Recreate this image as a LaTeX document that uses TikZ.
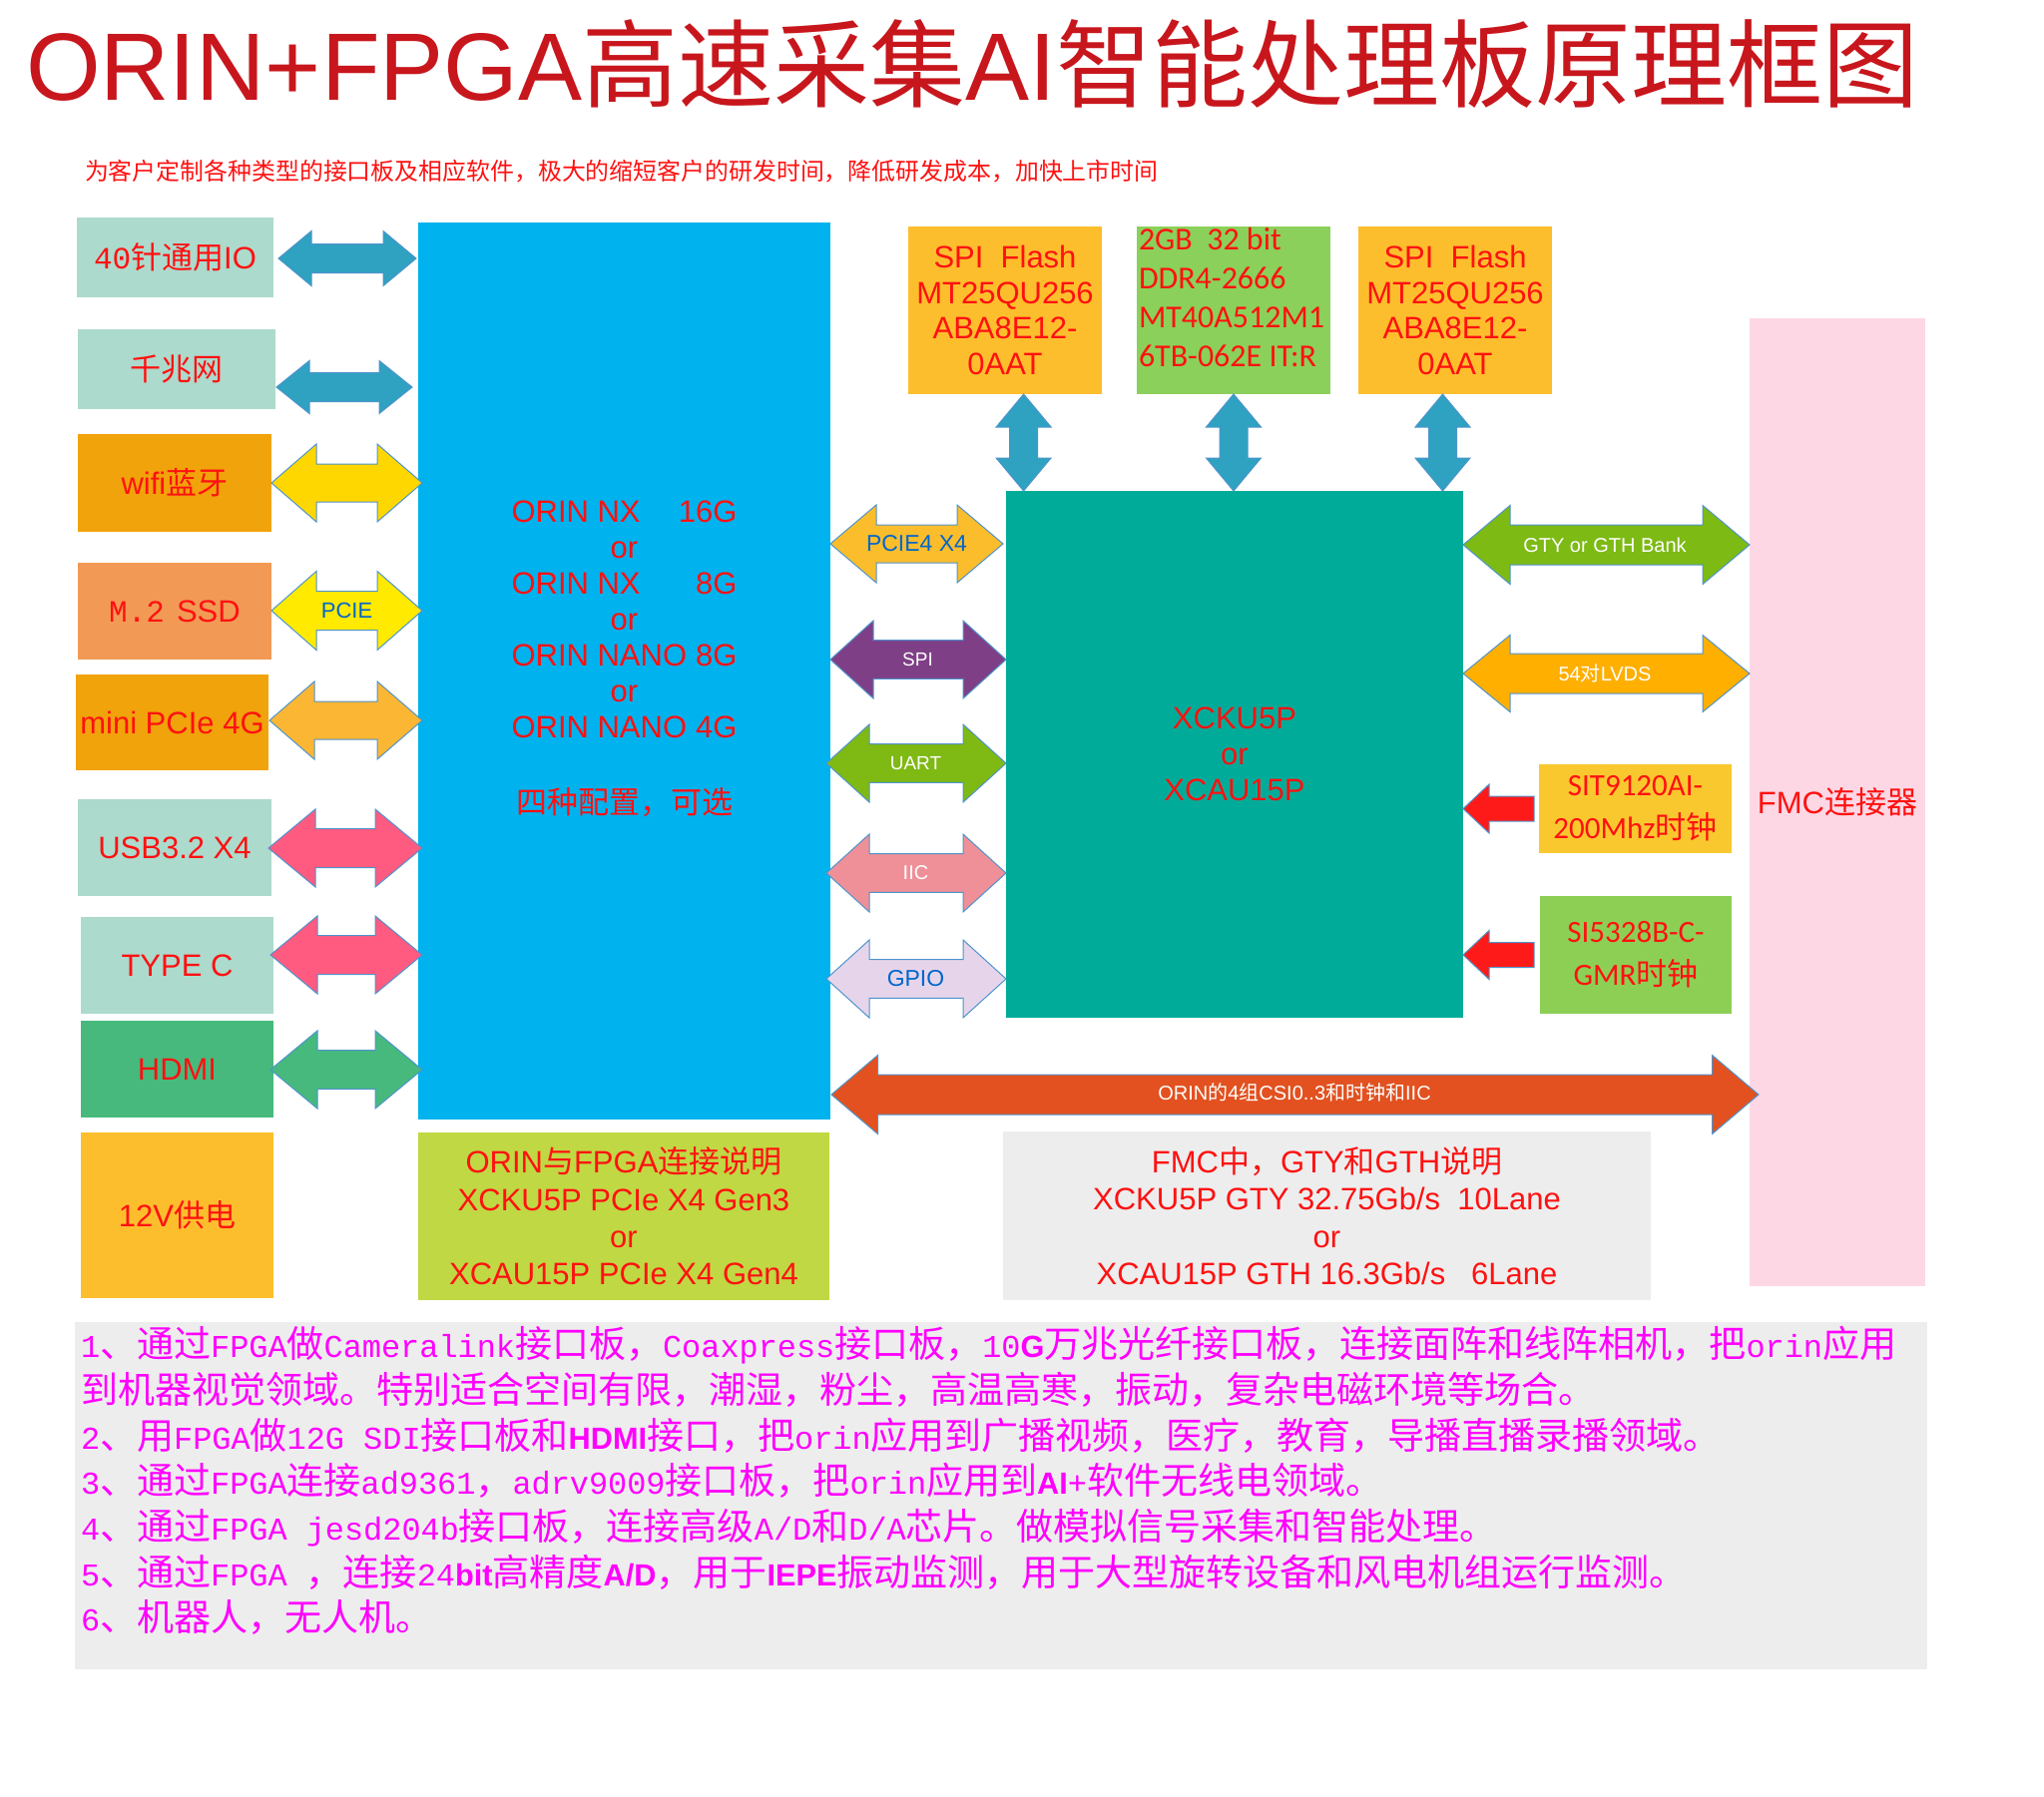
\documentclass[tikz,border=0pt]{standalone}
\usepackage{fontspec}
\setmainfont{Liberation Sans}
\newfontfamily\cjk{Noto Sans CJK SC}
\newfontfamily\mono{Liberation Mono}
\newfontfamily\monos[Scale=0.862]{Liberation Mono}
\newfontfamily\bsansf[Scale=0.83]{Liberation Sans}
\newfontfamily\carl{Carlito}
\usetikzlibrary{calc}
\newcommand\Z[1]{{\cjk #1}}
\newcommand\bsans{\bsansf\bfseries}
\newcommand\fs[2]{\fontsize{#1}{#2}\selectfont}
\definecolor{tred}{RGB}{255,17,17}
\definecolor{titlered}{RGB}{200,22,29}
\definecolor{boxteal}{RGB}{172,218,205}
\definecolor{orangeA}{RGB}{240,163,10}
\definecolor{ssdor}{RGB}{242,154,85}
\definecolor{hdmig}{RGB}{71,185,125}
\definecolor{amber}{RGB}{253,190,45}
\definecolor{orinblue}{RGB}{0,178,238}
\definecolor{conngreen}{RGB}{192,216,67}
\definecolor{fpgateal}{RGB}{0,172,153}
\definecolor{ddrg}{RGB}{139,208,90}
\definecolor{fmcpink}{RGB}{253,215,228}
\definecolor{sitY}{RGB}{249,200,47}
\definecolor{siG}{RGB}{141,207,85}
\definecolor{notegray}{RGB}{237,237,237}
\definecolor{notemag}{RGB}{255,0,255}
\definecolor{arrteal}{RGB}{46,162,192}
\definecolor{arryel}{RGB}{255,215,0}
\definecolor{arrpcie}{RGB}{255,234,0}
\definecolor{arrmp}{RGB}{251,182,52}
\definecolor{arrpink}{RGB}{255,90,128}
\definecolor{arrhdmi}{RGB}{71,185,125}
\definecolor{arrpf}{RGB}{251,189,43}
\definecolor{arrspi}{RGB}{127,63,134}
\definecolor{arruart}{RGB}{127,185,19}
\definecolor{arriic}{RGB}{239,144,152}
\definecolor{arrgpio}{RGB}{230,213,234}
\definecolor{arrgty}{RGB}{125,186,20}
\definecolor{arrlvds}{RGB}{255,175,0}
\definecolor{arrred}{RGB}{255,26,26}
\definecolor{arrcsi}{RGB}{226,81,31}
\definecolor{lblblue}{RGB}{0,102,204}
\definecolor{arrline}{RGB}{79,148,205}
% horizontal double block arrow: fill, P1, P2, yc, half height, half shaft, head length
\newcommand\harr[7]{%
\path[arrbase,fill=#1] let \p1=#2, \p2=#3, \p3=(0,#4) in
 (\x1,\y3) -- ++(#7pt,#5pt) -- ++(0pt,{(#6-#5)*1pt}) -- ({\x2-#7pt},{\y3+#6pt})
 -- ++(0pt,{(#5-#6)*1pt}) -- (\x2,\y3) -- ++(-#7pt,-#5pt) -- ++(0pt,{(#5-#6)*1pt})
 -- ({\x1+#7pt},{\y3-#6pt}) -- ++(0pt,{(#6-#5)*1pt}) -- cycle;}
% vertical double block arrow: fill, Ptop, Pbottom, xc, half width, half shaft, head length
\newcommand\varr[7]{%
\path[arrbase,fill=#1] let \p1=#2, \p2=#3, \p3=(#4,0) in
 (\x3,\y1) -- ++(#5pt,-#7pt) -- ++({(#6-#5)*1pt},0pt) -- ({\x3+#6pt},{\y2+#7pt})
 -- ++({(#5-#6)*1pt},0pt) -- (\x3,\y2) -- ++(-#5pt,#7pt) -- ++({(#5-#6)*1pt},0pt)
 -- ({\x3-#6pt},{\y1-#7pt}) -- ++({(#6-#5)*1pt},0pt) -- cycle;}
% single left block arrow: fill, Ptip, Ptail, yc, half height, half shaft, head length
\newcommand\larr[7]{%
\path[arrbase,fill=#1] let \p1=#2, \p2=#3, \p3=(0,#4) in
 (\x1,\y3) -- ++(#7pt,#5pt) -- ++(0pt,{(#6-#5)*1pt}) -- (\x2,{\y3+#6pt})
 -- (\x2,{\y3-#6pt}) -- ({\x1+#7pt},{\y3-#6pt}) -- ++(0pt,{(#6-#5)*1pt}) -- cycle;}
\begin{document}
\begin{tikzpicture}[x=1pt,y=-1pt,
  boxs/.style={rectangle, inner sep=0pt, outer sep=0pt, align=center, text=tred, font=\fs{31}{36}},
  txt/.style={inner sep=0pt, outer sep=0pt, align=center, text=tred},
  lbl/.style={inner sep=0pt, outer sep=0pt, text=white, font=\fs{20}{24}},
  arrbase/.style={draw=arrline, line width=1pt, line join=miter}]
\fill[white] (0,0) rectangle (2048,1800);
\useasboundingbox (0,0) rectangle (2048,1800);

% title and subtitle
\node[txt, anchor=base west, text=titlered, font=\fs{96}{110}] (title) at (26,100)
  {ORIN+FPGA\Z{高速采集}AI\Z{智能处理板原理框图}};
\node[txt, anchor=base west, font=\fs{23.9}{30}\cjk] (sub) at (85,180)
  {为客户定制各种类型的接口板及相应软件，极大的缩短客户的研发时间，降低研发成本，加快上市时间};

% left column
\node[boxs, fill=boxteal, minimum width=197pt, minimum height=80pt] (io) at (175.5,258) {{\mono 40}\Z{针通用}IO};
\node[boxs, fill=boxteal, minimum width=198pt, minimum height=80pt] (gbe) at (177,370) {\Z{千兆网}};
\node[boxs, fill=orangeA, minimum width=194pt, minimum height=98pt] (wifi) at (175,484) {wifi\Z{蓝牙}};
\node[boxs, fill=ssdor, minimum width=194pt, minimum height=97pt] (ssd) at (175,612.5) {{\mono M.2}\hspace{12pt}SSD};
\node[boxs, fill=orangeA, minimum width=193pt, minimum height=96pt] (mpcie) at (172.5,724) {mini PCIe 4G};
\node[boxs, fill=boxteal, minimum width=194pt, minimum height=97pt] (usb) at (175,849.5) {USB3.2 X4};
\node[boxs, fill=boxteal, minimum width=193pt, minimum height=97pt] (typec) at (177.5,967.5) {TYPE C};
\node[boxs, fill=hdmig, minimum width=193pt, minimum height=97pt] (hdmi) at (177.5,1071.5) {HDMI};
\node[boxs, fill=amber, minimum width=193pt, minimum height=166pt] (pwr) at (177.5,1218) {12V\Z{供电}};

% ORIN module
\node[boxs, fill=orinblue, minimum width=413pt, minimum height=899pt] (orin) at (625.5,672.5) {};
\node[txt, font=\fs{31}{36}] (orintxt) at (625.5,660)
  {\hbox to 226pt{ORIN NX\hfill 16G}\\or\\\hbox to 226pt{ORIN NX\hfill 8G}\\or\\
   \hbox to 226pt{ORIN NANO\hfill 8G}\\or\\\hbox to 226pt{ORIN NANO\hfill 4G}\\[40pt]\Z{四种配置，可选}};
\node[boxs, fill=conngreen, minimum width=412pt, minimum height=168pt, font=\fs{31}{37.3}] (conn) at (625,1219)
  {ORIN\Z{与}FPGA\Z{连接说明}\\XCKU5P PCIe X4 Gen3\\or\\XCAU15P PCIe X4 Gen4};

% memories
\node[boxs, fill=amber, minimum width=194pt, minimum height=168pt, font=\fs{31}{35.5}] (flash1) at (1007,311)
  {SPI\ \ Flash\\MT25QU256\\ABA8E12-\\0AAT};
\node[boxs, fill=ddrg, minimum width=194pt, minimum height=168pt] (ddr) at (1236,311) {};
\node[txt, anchor=west, align=left, font=\carl\fs{32}{39}] (ddrtxt) at (1141,298)
  {2GB\ \ 32 bit\\DDR4-2666\\MT40A512M1\\6TB-062E IT:R};
\node[boxs, fill=amber, minimum width=194pt, minimum height=168pt, font=\fs{31}{35.5}] (flash2) at (1458,311)
  {SPI\ \ Flash\\MT25QU256\\ABA8E12-\\0AAT};

% FPGA
\node[boxs, fill=fpgateal, minimum width=458pt, minimum height=528pt] (fpga) at (1237,756)
  {XCKU5P\\or\\XCAU15P};

% clocks and FMC
\node[boxs, fill=sitY, minimum width=193pt, minimum height=89pt, font=\carl\fs{31}{43}] (sit) at (1638.5,810.5)
  {SIT9120AI-\\200Mhz\Z{时钟}};
\node[boxs, fill=siG, minimum width=192pt, minimum height=118pt, font=\carl\fs{31}{43}] (si) at (1639,957)
  {SI5328B-C-\\GMR\Z{时钟}};
\node[boxs, fill=fmcpink, minimum width=176pt, minimum height=970pt] (fmc) at (1841,804) {FMC\Z{连接器}};
\node[boxs, fill=notegray, minimum width=649pt, minimum height=169pt, font=\fs{31}{37.3}] (fmcnote) at (1329.5,1218.5)
  {FMC\Z{中，}GTY\Z{和}GTH\Z{说明}\\XCKU5P GTY 32.75Gb/s\ \ 10Lane\\or\\XCAU15P GTH 16.3Gb/s\ \ \ 6Lane};

% notes
\node[boxs, fill=notegray, minimum width=1856pt, minimum height=348pt] (notes) at (1003,1499) {};
\node[txt, anchor=west, align=left, text=notemag, font=\fs{37}{45.7}] (notestxt) at (81,1484)
 {{\monos 1}\Z{、通过}{\monos FPGA}\Z{做}{\monos Cameralink}\Z{接口板，}{\monos Coaxpress}\Z{接口板，}{\monos 10}{\bsans G}\Z{万兆光纤接口板，连接面阵和线阵相机，把}{\monos orin}\Z{应用}\\
  \Z{到机器视觉领域。特别适合空间有限，潮湿，粉尘，高温高寒，振动，复杂电磁环境等场合。}\\
  {\monos 2}\Z{、用}{\monos FPGA}\Z{做}{\monos 12G SDI}\Z{接口板和}{\bsans HDMI}\Z{接口，把}{\monos orin}\Z{应用到广播视频，医疗，教育，导播直播录播领域。}\\
  {\monos 3}\Z{、通过}{\monos FPGA}\Z{连接}{\monos ad9361}\Z{，}{\monos adrv9009}\Z{接口板，把}{\monos orin}\Z{应用到}{\bsans AI}{\monos +}\Z{软件无线电领域。}\\
  {\monos 4}\Z{、通过}{\monos FPGA jesd204b}\Z{接口板，连接高级}{\monos A/D}\Z{和}{\monos D/A}\Z{芯片。做模拟信号采集和智能处理。}\\
  {\monos 5}\Z{、通过}{\monos FPGA }\Z{，连接}{\monos 24}{\bsans bit}\Z{高精度}{\bsans A/D}\Z{，用于}{\bsans IEPE}\Z{振动监测，用于大型旋转设备和风电机组运行监测。}\\
  {\monos 6}\Z{、机器人，无人机。}};

% left arrows
\harr{arrteal}{([xshift=5pt]io.east)}{([xshift=-2pt]orin.west)}{259}{27.5}{14.5}{33}
\harr{arrteal}{([xshift=1pt]gbe.east)}{([xshift=-6pt]orin.west)}{388}{26.5}{14.5}{33}
\harr{arryel}{(wifi.east)}{([xshift=4pt]orin.west)}{484}{39}{19}{45}
\harr{arrpcie}{(ssd.east)}{([xshift=4pt]orin.west)}{612}{39.5}{19.5}{45}
\harr{arrmp}{([xshift=1pt]mpcie.east)}{([xshift=4pt]orin.west)}{722}{39}{19}{45}
\harr{arrpink}{([xshift=-3pt]usb.east)}{([xshift=4pt]orin.west)}{850}{39}{19.5}{47}
\harr{arrpink}{([xshift=-3pt]typec.east)}{([xshift=4pt]orin.west)}{957}{39}{19.5}{47}
\harr{arrhdmi}{([xshift=-3pt]hdmi.east)}{([xshift=4pt]orin.west)}{1072}{39}{19.5}{47}
\node[lbl, text=lblblue, font=\fs{22}{26}] (lpcie) at (347.5,612) {PCIE};

% middle arrows
\harr{arrpf}{(orin.east)}{([xshift=-3pt]fpga.west)}{545}{39}{19}{46}
\harr{arrspi}{(orin.east)}{(fpga.west)}{661}{39}{19.3}{43}
\harr{arruart}{([xshift=-4pt]orin.east)}{(fpga.west)}{765}{39}{19.3}{43}
\harr{arriic}{([xshift=-4pt]orin.east)}{(fpga.west)}{875}{39}{19.3}{43}
\harr{arrgpio}{([xshift=-4pt]orin.east)}{(fpga.west)}{981}{39}{19.3}{43}
\node[lbl, text=lblblue, font=\fs{23}{27}] (lpf) at (918.5,545) {PCIE4 X4};
\node[lbl, font=\fs{19}{23}] (lspi) at (919.5,661) {SPI};
\node[lbl, font=\fs{19}{23}] (luart) at (917.5,765) {UART};
\node[lbl, font=\fs{20}{24}] (liic) at (917.5,875) {IIC};
\node[lbl, text=lblblue, font=\fs{23}{27}] (lgpio) at (917.5,981) {GPIO};

% memory arrows
\varr{arrteal}{(flash1.south)}{(fpga.north)}{1025.6}{27.5}{14}{33}
\varr{arrteal}{(ddr.south)}{(fpga.north)}{1236}{27.5}{14}{33}
\varr{arrteal}{(flash2.south)}{(fpga.north)}{1445.5}{27.5}{14}{33}

% right arrows
\harr{arrgty}{(fpga.east)}{(fmc.west)}{546}{39.5}{20}{47}
\harr{arrlvds}{(fpga.east)}{(fmc.west)}{675}{38.5}{20}{47}
\node[lbl] (lgty) at (1608,546) {GTY or GTH Bank};
\node[lbl] (llvds) at (1608,675) {54\Z{对}LVDS};
\larr{arrred}{(fpga.east)}{([xshift=-5pt]sit.west)}{810.5}{24.5}{12.5}{26}
\larr{arrred}{(fpga.east)}{([xshift=-6pt]si.west)}{957}{24.5}{12.5}{26}

% CSI arrow
\harr{arrcsi}{([xshift=1pt]orin.east)}{([xshift=9pt]fmc.west)}{1097}{39.5}{20}{46.5}
\node[lbl] (lcsi) at (1297,1095) {ORIN\Z{的}4\Z{组}CSI0..3\Z{和时钟和}IIC};
\end{tikzpicture}
\end{document}
